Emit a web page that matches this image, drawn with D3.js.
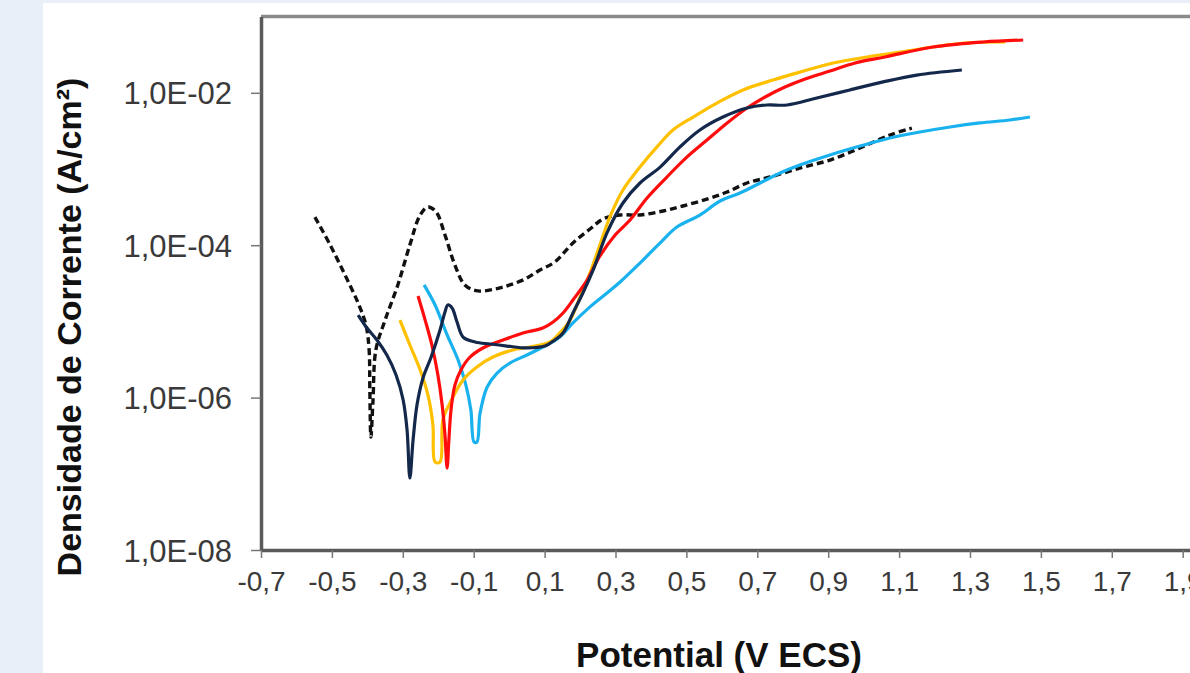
<!DOCTYPE html>
<html><head><meta charset="utf-8">
<script src="https://cdn.jsdelivr.net/npm/d3@7"></script>
<style>html,body{margin:0;padding:0;background:#e8eff8;}svg{display:block;}</style>
</head><body><svg id="c" width="1190" height="673"></svg>
<script>
// ---- data (potential in V vs ECS, current density in A/cm²) ----
const xTicks = [-0.7,-0.5,-0.3,-0.1,0.1,0.3,0.5,0.7,0.9,1.1,1.3,1.5,1.7,1.9];
const yTicks = [1e-8,1e-6,1e-4,1e-2];
const yTickLabels = ["1,0E-08","1,0E-06","1,0E-04","1,0E-02"];

const dashedE = [-0.548,-0.505,-0.463,-0.426,-0.404,-0.395,-0.393,-0.390,-0.384,-0.376,-0.350,-0.314,-0.280,-0.251,-0.229,-0.206,-0.181,-0.153,-0.125,-0.088,-0.040,0.002,0.045,0.087,0.129,0.180,0.228,0.265,0.313,0.369,0.434,0.490,0.558,0.615,0.671,0.736,0.820,0.905,0.990,1.074,1.136];
const dashedI = [2.34e-4,1.01e-4,4.06e-5,1.74e-5,8.97e-6,4.22e-6,1.26e-6,3.04e-7,9.3e-7,4.22e-6,1.04e-5,3.01e-5,1.01e-4,2.49e-4,3.17e-4,2.73e-4,1.36e-4,5.49e-5,3.01e-5,2.51e-5,2.66e-5,3.01e-5,3.6e-5,4.73e-5,6.03e-5,1.07e-4,1.63e-4,2.21e-4,2.49e-4,2.49e-4,2.81e-4,3.27e-4,4.03e-4,4.99e-4,6.55e-4,7.85e-4,1.03e-3,1.31e-3,1.89e-3,2.79e-3,3.45e-3];

const blueE = [-0.240,-0.209,-0.175,-0.144,-0.122,-0.108,-0.099,-0.091,-0.082,-0.062,-0.034,0.002,0.050,0.095,0.143,0.180,0.228,0.276,0.313,0.369,0.426,0.473,0.538,0.595,0.651,0.708,0.764,0.820,0.905,0.990,1.074,1.159,1.244,1.328,1.413,1.469];
const blueI = [3.01e-5,1.64e-5,6.64e-6,3.11e-6,1.46e-6,6.87e-7,2.61e-7,2.61e-7,6.28e-7,1.38e-6,2.1e-6,2.84e-6,3.62e-6,4.61e-6,6.24e-6,9.53e-6,1.55e-5,2.36e-5,3.29e-5,5.83e-5,1.07e-4,1.73e-4,2.49e-4,3.8e-4,4.84e-4,6.55e-4,8.87e-4,1.13e-3,1.53e-3,2.0e-3,2.55e-3,3.06e-3,3.56e-3,4.02e-3,4.4e-3,4.81e-3];

const redE = [-0.257,-0.237,-0.218,-0.201,-0.189,-0.181,-0.175,-0.170,-0.164,-0.153,-0.136,-0.113,-0.074,-0.017,0.039,0.095,0.124,0.152,0.180,0.220,0.256,0.299,0.341,0.389,0.445,0.502,0.558,0.615,0.671,0.722,0.778,0.835,0.905,0.976,1.060,1.196,1.337,1.450];
const redI = [2.15e-5,1.04e-5,4.9e-6,1.98e-6,8.0e-7,3.23e-7,1.19e-7,2.78e-7,6.87e-7,1.46e-6,2.3e-6,3.31e-6,4.48e-6,5.7e-6,7.05e-6,8.18e-6,9.82e-6,1.29e-5,1.91e-5,3.49e-5,7.21e-5,1.36e-4,2.14e-4,4.16e-4,7.85e-4,1.44e-3,2.4e-3,4.02e-3,6.32e-3,8.81e-3,1.19e-2,1.52e-2,1.93e-2,2.46e-2,2.95e-2,3.99e-2,4.64e-2,4.93e-2];

const orangeE = [-0.308,-0.280,-0.251,-0.229,-0.215,-0.209,-0.195,-0.187,-0.167,-0.130,-0.091,-0.046,0.011,0.059,0.115,0.143,0.172,0.200,0.228,0.256,0.284,0.321,0.369,0.417,0.462,0.519,0.586,0.660,0.744,0.820,0.914,1.009,1.103,1.196,1.292,1.399];
const orangeI = [1.04e-5,4.9e-6,2.3e-6,1.08e-6,4.36e-7,1.43e-7,1.43e-7,5.08e-7,8.49e-7,1.7e-6,2.52e-6,3.41e-6,4.22e-6,4.61e-6,5.37e-6,7.05e-6,1.04e-5,2.09e-5,4.31e-5,1.01e-4,2.34e-4,5.3e-4,1.06e-3,1.95e-3,3.25e-3,4.81e-3,7.34e-3,1.09e-2,1.47e-2,1.87e-2,2.46e-2,2.95e-2,3.43e-2,3.99e-2,4.51e-2,4.64e-2];

const navyE = [-0.426,-0.401,-0.373,-0.345,-0.319,-0.299,-0.288,-0.280,-0.271,-0.260,-0.243,-0.220,-0.195,-0.181,-0.173,-0.161,-0.147,-0.130,-0.096,-0.054,-0.006,0.050,0.101,0.129,0.152,0.180,0.208,0.237,0.276,0.321,0.369,0.426,0.482,0.538,0.603,0.671,0.727,0.784,0.868,0.961,1.055,1.150,1.277];
const navyI = [1.21e-5,8.18e-6,5.7e-6,3.62e-6,1.98e-6,9.3e-7,3.76e-7,8.81e-8,2.78e-7,8.0e-7,1.81e-6,3.41e-6,7.71e-6,1.33e-5,1.64e-5,1.5e-5,9.82e-6,6.24e-6,5.37e-6,5.05e-6,4.75e-6,4.48e-6,4.75e-6,5.7e-6,7.05e-6,1.29e-5,2.36e-5,4.73e-5,1.45e-4,3.58e-4,6.55e-4,1.06e-3,1.95e-3,3.25e-3,4.81e-3,6.32e-3,6.92e-3,6.92e-3,8.55e-3,1.09e-2,1.39e-2,1.71e-2,1.99e-2];

const series = [
  {E: dashedE, I: dashedI, color: "#111111", dash: "7,4", width: 3.4},
  {E: blueE, I: blueI, color: "#19b2ee", dash: null, width: 3.2},
  {E: orangeE, I: orangeI, color: "#ffc000", dash: null, width: 3.2},
  {E: redE, I: redI, color: "#ff0d0d", dash: null, width: 3.2},
  {E: navyE, I: navyI, color: "#13284a", dash: null, width: 3.2}
];

// ---- layout ----
const svg = d3.select("#c");
svg.append("rect").attr("x",43).attr("y",3).attr("width",1190-43).attr("height",673-3).attr("fill","#ffffff");

const x = d3.scaleLinear().domain([-0.7, 2.1]).range([261, 261 + 2.8*354.5]);
const y = d3.scaleLog().domain([1e-8, 1e-1]).range([550, 550 - 7*76.2]);

// plot frame (top border)
svg.append("line").attr("x1",261).attr("x2",1260).attr("y1",y(1e-1)).attr("y2",y(1e-1))
  .attr("stroke","#8a8a8a").attr("stroke-width",3.5);

const fmtX = d => d3.format(".1f")(d).replace(".", ",").replace("−","-");

svg.append("clipPath").attr("id","clip").append("rect")
  .attr("x",262).attr("y",y(1e-1)+2).attr("width",1000).attr("height",550-y(1e-1)-3);

const line = d3.line().x(d => x(d[0])).y(d => y(d[1])).curve(d3.curveCatmullRom.alpha(0.5));
const g = svg.append("g").attr("clip-path","url(#clip)");
series.forEach(s => {
  const pts = s.E.map((e,i) => [e, s.I[i]]);
  g.append("path").attr("d", line(pts)).attr("fill","none")
    .attr("stroke", s.color).attr("stroke-width", s.width)
    .attr("stroke-linejoin","round")
    .attr("stroke-dasharray", s.dash);
});

// axes
const FONT = "Liberation Sans, Arial, sans-serif";
const xAxis = d3.axisBottom(x).tickValues(xTicks).tickFormat(fmtX).tickSize(8).tickSizeOuter(0);
const gx = svg.append("g").attr("transform","translate(0,550)").call(xAxis);
gx.select(".domain").attr("stroke","#5a5a5a").attr("stroke-width",3.5);
gx.selectAll(".tick line").attr("stroke","#777").attr("stroke-width",1.5);
gx.selectAll(".tick text").attr("fill","#3a3a3a").attr("font-family",FONT)
  .attr("font-size",28).attr("dy","1.05em").attr("y",12);

const yAxis = d3.axisLeft(y).tickValues(yTicks).tickFormat((d,i) => yTickLabels[i]).tickSize(10).tickSizeOuter(0);
const gy = svg.append("g").attr("transform","translate(261,0)").call(yAxis);
gy.select(".domain").attr("stroke","#5a5a5a").attr("stroke-width",3.5);
gy.selectAll(".tick line").attr("stroke","#777").attr("stroke-width",1.5);
gy.selectAll(".tick text").attr("fill","#3a3a3a").attr("font-family",FONT)
  .attr("font-size",31).attr("x",-29).attr("dy","0.36em");

// titles
svg.append("text").attr("x",719).attr("y",667).attr("text-anchor","middle")
  .attr("font-family",FONT).attr("font-weight","bold").attr("font-size",35)
  .attr("fill","#111").text("Potential (V ECS)");
svg.append("text").attr("transform","translate(81,327) rotate(-90)").attr("text-anchor","middle")
  .attr("font-family",FONT).attr("font-weight","bold").attr("font-size",34)
  .attr("fill","#111").text("Densidade de Corrente (A/cm²)");
</script></body></html>
